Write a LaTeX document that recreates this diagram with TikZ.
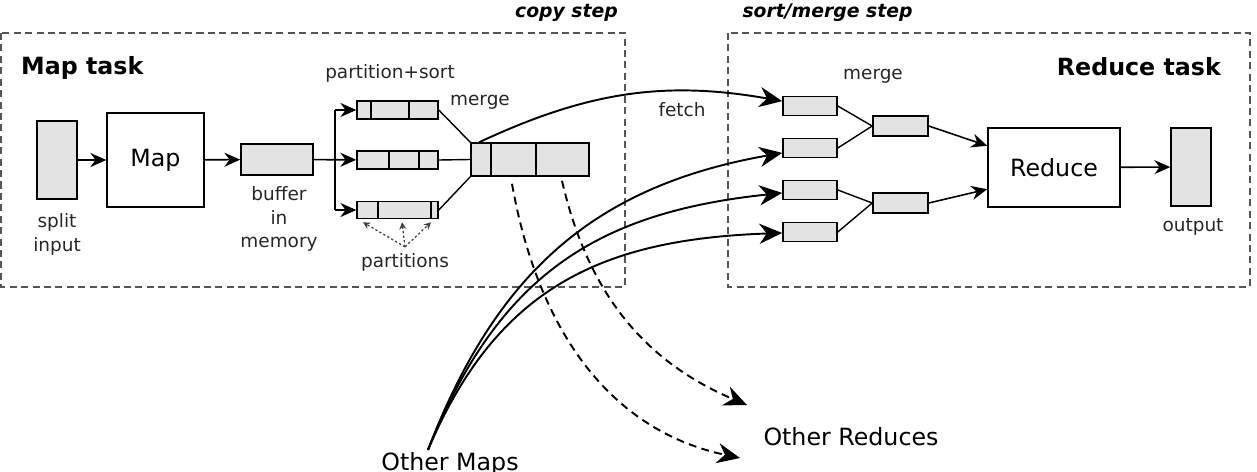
\documentclass[tikz,border=0pt]{standalone}
\usepackage{fontspec}
\setmainfont{DejaVu Sans}[ItalicFont={DejaVu Sans Oblique},BoldItalicFont={DejaVu Sans Bold Oblique}]
\usepackage{tikz}
\usetikzlibrary{arrows.meta}
\definecolor{boxgray}{RGB}{227,227,227}
\definecolor{framegray}{RGB}{85,85,85}

\begin{document}
\begin{tikzpicture}[x=0.2cm, y=0.2cm,
    graybox/.style={draw, fill=boxgray, line width=0.9pt, inner sep=0pt},
    whitebox/.style={draw, line width=0.9pt, inner sep=0pt, font=\fontsize{13.5}{16}\selectfont},
    lbl/.style={text=black!85, align=center, font=\fontsize{10.5}{13.6}\selectfont},
    biglbl/.style={font=\fontsize{13.5}{16}\selectfont},
    tasklbl/.style={font=\bfseries\fontsize{13.5}{16}\selectfont},
    steplbl/.style={font=\bfseries\itshape\fontsize{10.7}{13}\selectfont},
    taskframe/.style={draw=framegray, line width=0.9pt, dash pattern=on 4pt off 2.5pt},
    arr/.style={-{Stealth[length=9pt, width=8pt]}, line width=0.9pt},
    link/.style={line width=0.8pt},
    fetcharr/.style={-{Stealth[length=13pt, width=11.5pt]}, line width=1.1pt},
    dasharr/.style={fetcharr, dash pattern=on 4.5pt off 3pt},
    dotarr/.style={-{Stealth[length=4pt, width=4pt]}, draw=black!75, dash pattern=on 1.3pt off 1.3pt, line width=0.7pt}]

    \useasboundingbox (0,0) rectangle (125.7,-47.1);

    % Task frames
    \draw[taskframe] (0.1,-3.3) rectangle (62.5,-28.7);
    \draw[taskframe] (72.8,-3.3) rectangle (125.0,-28.7);

    % Labels
    \node at (1.5,-6.8) (maptask) [tasklbl, anchor=west] {Map task};
    \node at (122.7,-6.7) (redtask) [tasklbl, anchor=east] {Reduce task};
    \node at (56.65,-1.3) (copystep) [steplbl] {copy step};
    \node at (82.75,-1.3) (sortstep) [steplbl] {sort/merge step};

    % Map side
    \node at (5.7,-16.0) (split) [graybox, minimum width=0.8cm, minimum height=1.56cm] {};
    \node at (5.7,-23.4) (splittxt) [lbl] {split\\input};
    \node at (15.55,-16.0) (map) [whitebox, minimum width=1.94cm, minimum height=1.88cm] {Map};
    \node at (27.7,-15.95) (buf) [graybox, minimum width=1.44cm, minimum height=0.62cm] {};
    \node at (27.9,-21.9) (buftxt) [lbl] {buffer\\in\\memory};
    \coordinate (br) at (33.5,-16.0);

    \node at (39.0,-7.3) (sorttxt) [lbl] {partition+sort};
    \node at (39.75,-11.0) (p1) [graybox, minimum width=1.62cm, minimum height=0.36cm] {};
    \node at (39.75,-16.0) (p2) [graybox, minimum width=1.62cm, minimum height=0.36cm] {};
    \node at (39.75,-21.0) (p3) [graybox, minimum width=1.62cm, minimum height=0.34cm] {};
    \node at (40.5,-26.2) (parts) [lbl] {partitions};
    \foreach \x in {37.1,40.9} \draw[link] (\x,0 |- p1.north) -- (\x,0 |- p1.south);
    \foreach \x in {38.9,41.9} \draw[link] (\x,0 |- p2.north) -- (\x,0 |- p2.south);
    \foreach \x in {37.8,43.1} \draw[link] (\x,0 |- p3.north) -- (\x,0 |- p3.south);

    \node at (48.0,-10.2) (mergetxt) [lbl] {merge};
    \node at (53.0,-15.95) (mrg) [graybox, minimum width=2.36cm, minimum height=0.66cm] {};
    \foreach \x in {49.1,53.6} \draw[link] (\x,0 |- mrg.north) -- (\x,0 |- mrg.south);

    % Reduce side
    \node at (68.2,-11.0) (fetchtxt) [lbl] {fetch};
    \node at (87.3,-7.6) (rmergetxt) [lbl] {merge};
    \node at (81.0,-10.6) (r1) [graybox, minimum width=1.08cm, minimum height=0.38cm] {};
    \node at (81.0,-14.8) (r2) [graybox, minimum width=1.08cm, minimum height=0.38cm] {};
    \node at (81.0,-19.0) (r3) [graybox, minimum width=1.08cm, minimum height=0.38cm] {};
    \node at (81.0,-23.2) (r4) [graybox, minimum width=1.08cm, minimum height=0.38cm] {};
    \node at (90.05,-12.6) (m1) [graybox, minimum width=1.1cm, minimum height=0.4cm] {};
    \node at (90.05,-20.3) (m2) [graybox, minimum width=1.1cm, minimum height=0.4cm] {};
    \node at (105.4,-16.75) (red) [whitebox, minimum width=2.64cm, minimum height=1.58cm] {Reduce};
    \node at (119.1,-16.7) (outp) [graybox, minimum width=0.8cm, minimum height=1.56cm] {};
    \node at (119.3,-22.7) (outtxt) [lbl] {output};

    \node at (85.1,-43.7) (reds) [biglbl] {Other Reduces};
    \node at (45.0,-47.0) (maps) [biglbl, anchor=base, inner sep=1pt] {Other Maps};
    \coordinate (oth1) at (74.7,-40.5);
    \coordinate (oth2) at (74.0,-45.8);

    % Arrows
    \draw[arr] (split) -- (map);
    \draw[arr] (map) -- (buf);
    \draw[arr] (buf) -- (p2);
    \draw[link] (br |- p1) -- (br |- p3);
    \draw[arr] (br |- p1) -- (p1);
    \draw[arr] (br |- p3) -- (p3);
    \draw[link] (p1.east) -- (mrg.north west);
    \draw[link] (p2.east) -- (mrg.west);
    \draw[link] (p3.east) -- (mrg.south west);
    \draw[dotarr] (parts.north) -- ([xshift=-0.69cm,yshift=-0.06cm]p3.south);
    \draw[dotarr] (parts.north) -- ([xshift=0.09cm,yshift=-0.06cm]p3.south);
    \draw[dotarr] (parts.north) -- ([xshift=0.67cm,yshift=-0.06cm]p3.south);

    \draw[fetcharr] ([xshift=0.18cm]mrg.north west) to[out=25, in=170] (r1);
    \draw[fetcharr] ([xshift=-0.44cm]maps.north) to[out=69, in=190, looseness=1.05] (r2);
    \draw[fetcharr] ([xshift=-0.44cm]maps.north) to[out=68, in=186, looseness=1.1] (r3);
    \draw[fetcharr] ([xshift=-0.44cm]maps.north) to[out=67, in=182, looseness=1.1] (r4);
    \draw[dasharr] ([xshift=-0.36cm,yshift=-0.14cm]mrg.south) to[out=-80, in=168] (oth2);
    \draw[dasharr] ([xshift=0.64cm,yshift=-0.08cm]mrg.south) to[out=-77, in=157] (oth1);

    \draw[link] (r1.east) -- (m1.west);
    \draw[link] (r2.east) -- (m1.west);
    \draw[link] (r3.east) -- (m2.west);
    \draw[link] (r4.east) -- (m2.west);
    \draw[arr] (m1.east) -- (red.162);
    \draw[arr] (m2.east) -- (red.198);
    \draw[arr] (red) -- (outp);

\end{tikzpicture}
\end{document}
